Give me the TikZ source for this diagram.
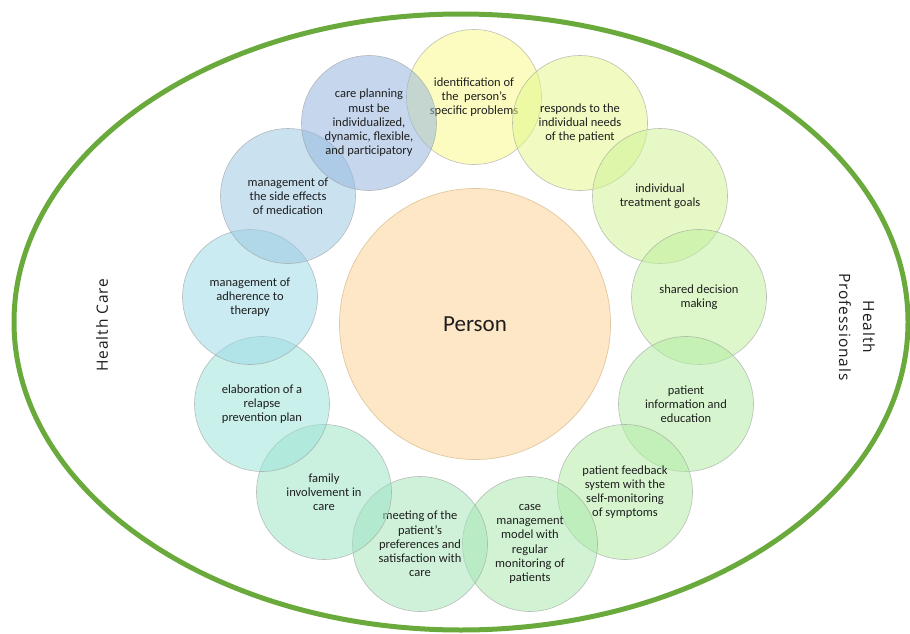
\documentclass[tikz,border=0pt]{standalone}
\usepackage{fontspec}
\setmainfont{Carlito}
\newfontfamily\labfont[LetterSpace=6]{Open Sans}
\newcommand\bubfont{\fontsize{12.5}{14.2}\selectfont}
\definecolor{ringgreen}{RGB}{106,170,60}
\definecolor{txt}{RGB}{30,30,30}
\definecolor{cA}{RGB}{250,250,138}
\definecolor{cB}{RGB}{227,247,138}
\definecolor{cC}{RGB}{207,243,147}
\definecolor{cD}{RGB}{190,240,155}
\definecolor{cE}{RGB}{177,237,163}
\definecolor{cF}{RGB}{177,237,163}
\definecolor{cG}{RGB}{167,233,172}
\definecolor{cH}{RGB}{163,230,183}
\definecolor{cI}{RGB}{155,227,197}
\definecolor{cJ}{RGB}{155,227,217}
\definecolor{cK}{RGB}{155,217,230}
\definecolor{cL}{RGB}{155,200,227}
\definecolor{cM}{RGB}{147,180,222}
\definecolor{personfill}{RGB}{254,231,198}
\definecolor{personline}{RGB}{225,200,160}
\tikzset{
  bub/.style={circle, minimum size=135pt, inner sep=0pt, draw=gray!80,
    line width=0.6pt, fill=#1, fill opacity=0.52, draw opacity=0.6,
    text opacity=1, align=center, font=\bubfont, text=txt},
  side/.style={font=\labfont\fontsize{15.5}{24}\selectfont, text=txt, align=center, inner sep=0pt}
}
\begin{document}
\begin{tikzpicture}[x=1pt,y=-1pt]
\useasboundingbox (0,0) rectangle (910,634);
\fill[white] (0,0) rectangle (910,634);
\draw[ringgreen, line width=5pt] (461,322) ellipse [x radius=447, y radius=308];
\node[circle, minimum size=271pt, inner sep=0pt, fill=personfill, draw=personline, line width=0.7pt,
  font=\fontsize{23}{27}\selectfont, text=txt] (person) at (475,324) {Person};
\node[bub=cA] (c1) at (474,97) {identification of\\the\ \ person's\\specific problems};
\node[bub=cB] (c2) at (580,123) {responds to the\\individual needs\\of the patient};
\node[bub=cC] (c3) at (660,196) {individual\\treatment goals};
\node[bub=cD] (c4) at (699,297) {shared decision\\making};
\node[bub=cE] (c5) at (686,404) {patient\\information and\\education};
\node[bub=cF] (c6) at (625,492) {patient feedback\\system with the\\self-monitoring\\of symptoms};
\node[bub=cG] (c7) at (530,544) {case\\management\\model with\\regular\\monitoring of\\patients};
\node[bub=cH] (c8) at (420,544) {meeting of the\\patient's\\preferences and\\satisfaction with\\care};
\node[bub=cI] (c9) at (324,492) {family\\involvement in\\care};
\node[bub=cJ] (c10) at (262,404) {elaboration of a\\relapse\\prevention plan};
\node[bub=cK] (c11) at (250,297) {management of\\adherence to\\therapy};
\node[bub=cL] (c12) at (288,196) {management of\\the side effects\\of medication};
\node[bub=cM] (c13) at (369,123) {care planning\\must be\\individualized,\\dynamic, flexible,\\and participatory};
\node[side, rotate=90] (hc) at (102,325) {Health Care};
\node[side, rotate=-90] (hp) at (857,327) {Health\\Professionals};
\end{tikzpicture}
\end{document}
